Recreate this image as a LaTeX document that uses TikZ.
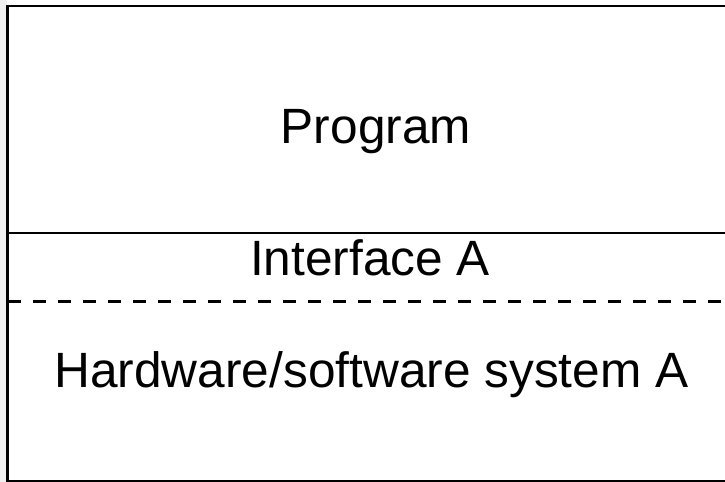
\documentclass[tikz,border=0pt]{standalone}
\usepackage{fontspec}
\setmainfont{Liberation Sans}
\usepackage{tikz}
\definecolor{margin}{HTML}{F0F0F0}
\definecolor{baseline}{HTML}{808080}
\tikzset{%
    layertext/.style={anchor=base,inner sep=0pt,font=\fontsize{24.8}{29}\selectfont}
}

\begin{document}
\begin{tikzpicture}[x=0.5pt,y=-0.5pt]
    \useasboundingbox (0,0) rectangle (725,482);
    \fill[white] (0,0) rectangle (725,482);
    \fill[margin] (0,0) rectangle (7,482);
    
    % Rahmen
    \draw[line width=1.3pt] (8,6) -- (725,6);
    \draw[line width=1.5pt] (8,5.4) -- (8,482);
    \draw[baseline,line width=1pt] (9,481) -- (725,481);
    
    % Schichten
    \draw[line width=1.1pt] (8,233) -- (725,233);
    \draw[line width=1.3pt,dash pattern=on 6.5pt off 6pt] (8,301.5) -- (725,301.5);
    
    \node[layertext] (program) at (376,143) {Program};
    \node[layertext] (interface) at (370,276) {Interface A};
    \node[layertext] (system) at (371.5,387) {Hardware/software system A};
\end{tikzpicture}
\end{document}
